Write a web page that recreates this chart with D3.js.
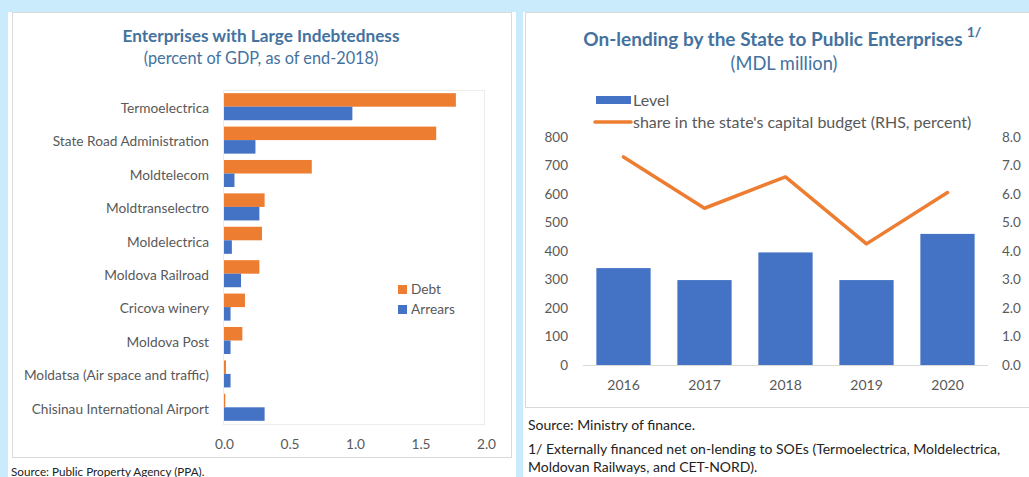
<!DOCTYPE html>
<html><head><meta charset="utf-8">
<script src="https://cdn.jsdelivr.net/npm/d3@7"></script>
<style>
html,body{margin:0;padding:0;background:#fff;}
svg{display:block;font-family:Lato,"Open Sans",sans-serif;}
</style></head>
<body>
<svg id="chart" width="1029" height="477"></svg>
<script>
// ---- Left chart data ----
const companies = ["Termoelectrica","State Road Administration","Moldtelecom","Moldtranselectro","Moldelectrica","Moldova Railroad","Cricova winery","Moldova Post","Moldatsa (Air space and traffic)","Chisinau International Airport"];
const debt    = [1.77, 1.62, 0.67, 0.31, 0.29, 0.27, 0.16, 0.14, 0.015, 0.01];
const arrears = [0.98, 0.24, 0.08, 0.27, 0.06, 0.13, 0.05, 0.05, 0.05, 0.31];
const leftTicks = [0, 0.5, 1.0, 1.5, 2.0];
const leftSeries = ["Debt","Arrears"];

// ---- Right chart data ----
const years = ["2016","2017","2018","2019","2020"];
const level = [340, 298, 395, 298, 460];
const share = [7.3, 5.5, 6.6, 4.25, 6.05];
const levelTicks = [0,100,200,300,400,500,600,700,800];
const shareTicks = [0,1,2,3,4,5,6,7,8];

const ORANGE = "#ed7d31", BLUE = "#4472c4", TXT = "#595959", TITLE = "#44729e", BG = "#c9ebfb";

const svg = d3.select("#chart");

// background strips
svg.append("rect").attr("x",0).attr("y",0).attr("width",1029).attr("height",12).attr("fill",BG);
svg.append("rect").attr("x",0).attr("y",0).attr("width",8).attr("height",477).attr("fill",BG);
svg.append("rect").attr("x",516).attr("y",0).attr("width",7).attr("height",477).attr("fill",BG);

// panels
svg.append("rect").attr("x",12.5).attr("y",12.5).attr("width",499).attr("height",445).attr("fill","#fff").attr("stroke","#d9d9d9");
svg.append("rect").attr("x",525.5).attr("y",12.5).attr("width",510).attr("height",395).attr("fill","#fff").attr("stroke","#d9d9d9");

// ===== LEFT CHART =====
const L = svg.append("g");
L.append("text").attr("x",261).attr("y",42).attr("text-anchor","middle").attr("fill",TITLE)
  .attr("font-weight","bold").attr("font-size",17.2).text("Enterprises with Large Indebtedness");
L.append("text").attr("x",261).attr("y",64).attr("text-anchor","middle").attr("fill",TITLE)
  .attr("font-size",16.3).text("(percent of GDP, as of end-2018)");

const xL = d3.scaleLinear().domain([0,2]).range([224,486]);
const yL = d3.scaleBand().domain(companies).range([90,424]).paddingInner(0.19).paddingOuter(0.095);
const yInner = d3.scaleBand().domain(leftSeries).range([0,yL.bandwidth()]);

// plot area border
L.append("rect").attr("x",223.5).attr("y",90.5).attr("width",261).attr("height",334).attr("fill","none").attr("stroke","#ececec");

const rowG = L.selectAll("g.row").data(companies).join("g").attr("class","row")
  .attr("transform",d=>`translate(0,${yL(d)})`);
rowG.append("rect").attr("x",xL(0)).attr("y",yInner("Debt"))
  .attr("width",(d,i)=>xL(debt[i])-xL(0)).attr("height",yInner.bandwidth()).attr("fill",ORANGE);
rowG.append("rect").attr("x",xL(0)).attr("y",yInner("Arrears"))
  .attr("width",(d,i)=>xL(arrears[i])-xL(0)).attr("height",yInner.bandwidth()).attr("fill",BLUE);

const axLy = L.append("g").attr("transform","translate(209,2)")
  .call(d3.axisLeft(yL).tickSize(0).tickPadding(0));
axLy.select(".domain").remove();
axLy.selectAll("text").attr("fill",TXT).attr("font-size",13.7).attr("font-family","Lato");

const axLx = L.append("g").attr("transform","translate(0,439)")
  .call(d3.axisBottom(xL).tickValues(leftTicks).tickFormat(d3.format(".1f")).tickSize(0).tickPadding(0));
axLx.select(".domain").remove();
axLx.selectAll("text").attr("fill",TXT).attr("font-size",13.7).attr("font-family","Lato");

// legend
const lg = L.append("g");
leftSeries.forEach((s,i)=>{
  lg.append("rect").attr("x",398).attr("y",285+i*20).attr("width",9).attr("height",9).attr("fill",i===0?ORANGE:BLUE);
  lg.append("text").attr("x",411).attr("y",294+i*20).attr("fill",TXT).attr("font-size",13.7).text(s);
});

svg.append("text").attr("x",11).attr("y",475.5).attr("fill","#222").attr("font-size",11.7).text("Source: Public Property Agency (PPA).");

// ===== RIGHT CHART =====
const R = svg.append("g");
const t = R.append("text").attr("x",773).attr("y",46).attr("text-anchor","middle").attr("fill",TITLE)
  .attr("font-weight","bold").attr("font-size",19).text("On-lending by the State to Public Enterprises");
const tb = t.node().getBBox();
R.append("text").attr("x",tb.x+tb.width+4).attr("y",37).attr("fill",TITLE).attr("font-weight","bold").attr("font-size",14).text("1/");
R.append("text").attr("x",784).attr("y",70).attr("text-anchor","middle").attr("fill",TITLE)
  .attr("font-size",18.3).text("(MDL million)");

// legend
R.append("rect").attr("x",596).attr("y",96).attr("width",35).attr("height",8).attr("fill",BLUE);
R.append("text").attr("x",633).attr("y",105.5).attr("fill",TXT).attr("font-size",16).text("Level");
R.append("line").attr("x1",595).attr("x2",631).attr("y1",122).attr("y2",122).attr("stroke",ORANGE).attr("stroke-width",3.5).attr("stroke-linecap","round");
R.append("text").attr("x",633).attr("y",127.5).attr("fill",TXT).attr("font-size",16).text("share in the state's capital budget (RHS, percent)");

const xR = d3.scaleBand().domain(years).range([583,988]).paddingInner(0.33).paddingOuter(0.165);
const yR = d3.scaleLinear().domain([0,800]).range([365,137]);
const yR2 = d3.scaleLinear().domain([0,8]).range([365,137]);

R.selectAll("rect.bar").data(years).join("rect").attr("class","bar")
  .attr("x",d=>xR(d)).attr("width",xR.bandwidth())
  .attr("y",(d,i)=>yR(level[i])).attr("height",(d,i)=>yR(0)-yR(level[i])).attr("fill",BLUE);

R.append("line").attr("x1",583).attr("x2",988).attr("y1",365.5).attr("y2",365.5).attr("stroke","#d9d9d9");

const line = d3.line().x((d,i)=>xR(years[i])+xR.bandwidth()/2).y(d=>yR2(d));
R.append("path").datum(share).attr("d",line).attr("fill","none").attr("stroke",ORANGE)
  .attr("stroke-width",3.5).attr("stroke-linejoin","round").attr("stroke-linecap","round");

const axRl = R.append("g").attr("transform","translate(568,0)")
  .call(d3.axisLeft(yR).tickValues(levelTicks).tickSize(0).tickPadding(0));
axRl.select(".domain").remove();
axRl.selectAll("text").attr("fill",TXT).attr("font-size",13.5).attr("font-family","Lato");

const axRr = R.append("g").attr("transform","translate(1002,0)")
  .call(d3.axisRight(yR2).tickValues(shareTicks).tickFormat(d3.format(".1f")).tickSize(0).tickPadding(0));
axRr.select(".domain").remove();
axRr.selectAll("text").attr("fill",TXT).attr("font-size",13.5).attr("font-family","Lato");

const axRx = R.append("g").attr("transform","translate(0,380)")
  .call(d3.axisBottom(xR).tickSize(0).tickPadding(0));
axRx.select(".domain").remove();
axRx.selectAll("text").attr("fill",TXT).attr("font-size",14).attr("font-family","Lato");

svg.append("text").attr("x",528).attr("y",430).attr("fill","#222").attr("font-size",14).text("Source: Ministry of finance.");
svg.append("text").attr("x",528).attr("y",454).attr("fill","#222").attr("font-size",14).text("1/ Externally financed net on-lending to SOEs (Termoelectrica, Moldelectrica,");
svg.append("text").attr("x",528).attr("y",472).attr("fill","#222").attr("font-size",14).text("Moldovan Railways, and CET-NORD).");
</script>
</body></html>
